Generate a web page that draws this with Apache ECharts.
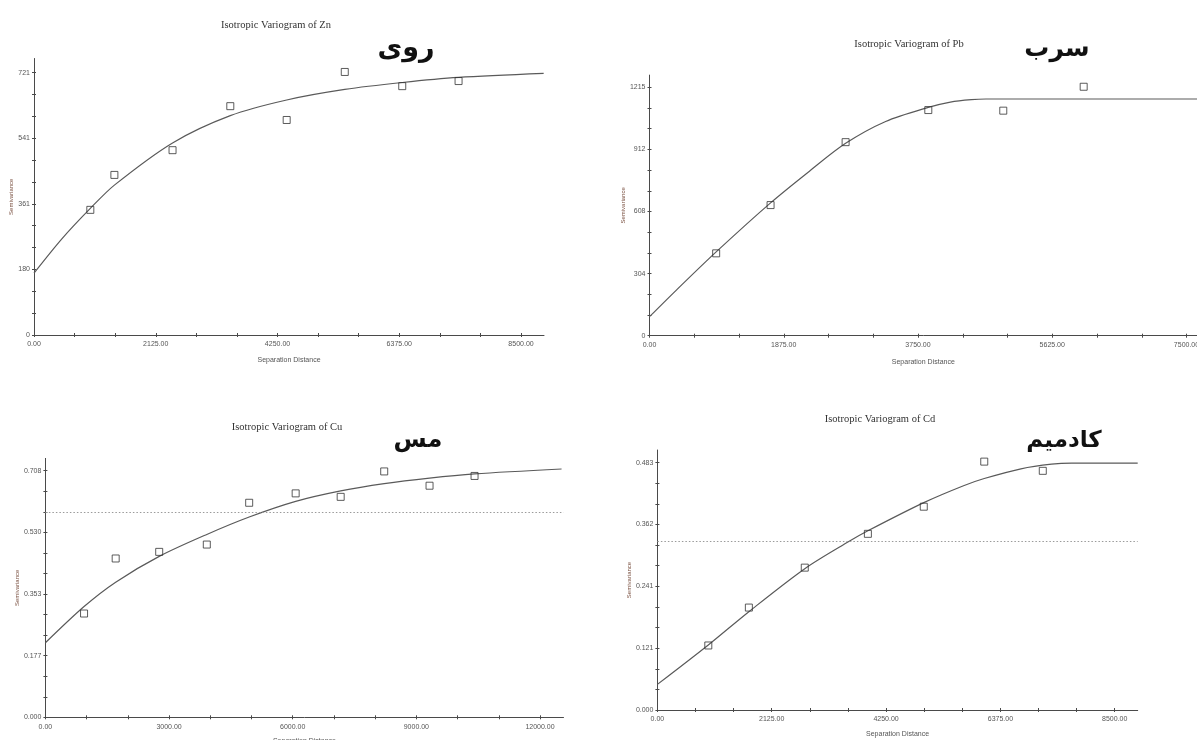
<!DOCTYPE html>
<html><head><meta charset="utf-8">
<script src="https://cdn.jsdelivr.net/npm/echarts@6/dist/echarts.min.js"></script>
<style>html,body{margin:0;padding:0;background:#fff}#c{width:1197px;height:740px}</style>
</head><body><div id="c"></div>
<script>
// ---------- Zn ----------
const znTitle = 'Isotropic Variogram of Zn';
const znFa = 'روی';
const znPtX = [983, 1403, 2418, 3426, 4410, 5424, 6427, 7410];
const znPtY = [344, 440, 508, 629, 591, 723, 684, 698];
const znModX = [0, 490, 983, 1403, 2418, 3426, 4410, 5424, 6427, 7410, 8895];
const znModY = [170, 265, 348, 412, 528, 603, 646, 675, 694, 708, 719];
const znXTicks = [0, 2125, 4250, 6375, 8500];
const znXLabels = ['0.00', '2125.00', '4250.00', '6375.00', '8500.00'];
const znYTicks = [0, 180.25, 360.5, 540.75, 721];
const znYLabels = ['0', '180', '361', '541', '721'];

// ---------- Pb ----------
const pbTitle = 'Isotropic Variogram of Pb';
const pbFa = 'سرب';
const pbPtX = [931, 1691, 2739, 3894, 4941, 6064];
const pbPtY = [403, 639, 947, 1104, 1101, 1218];
const pbModX = [0, 372, 931, 1691, 2234, 2739, 3298, 3894, 4202, 4495, 4700, 7648];
const pbModY = [93, 222, 410, 650, 805, 941, 1048, 1117, 1143, 1155, 1158, 1158];
const pbXTicks = [0, 1875, 3750, 5625, 7500];
const pbXLabels = ['0.00', '1875.00', '3750.00', '5625.00', '7500.00'];
const pbYTicks = [0, 303.9, 607.8, 911.7, 1215.6];
const pbYLabels = ['0', '304', '608', '912', '1215'];

// ---------- Cu ----------
const cuTitle = 'Isotropic Variogram of Cu';
const cuFa = 'مس';
const cuPtX = [938, 1705, 2761, 3916, 4944, 6072, 7164, 8220, 9320, 10412];
const cuPtY = [0.298, 0.456, 0.475, 0.496, 0.616, 0.643, 0.633, 0.706, 0.665, 0.693];
const cuModX = [0, 938, 1705, 2761, 3916, 4944, 6072, 7164, 8220, 9320, 10412, 12523];
const cuModY = [0.214, 0.318, 0.388, 0.462, 0.525, 0.575, 0.620, 0.650, 0.671, 0.687, 0.699, 0.713];
const cuVariance = 0.595;
const cuXTicks = [0, 3000, 6000, 9000, 12000];
const cuXLabels = ['0.00', '3000.00', '6000.00', '9000.00', '12000.00'];
const cuYTicks = [0, 0.177, 0.354, 0.531, 0.708];
const cuYLabels = ['0.000', '0.177', '0.353', '0.530', '0.708'];

// ---------- Cd ----------
const cdTitle = 'Isotropic Variogram of Cd';
const cdFa = 'کادمیم';
const cdPtX = [946, 1700, 2739, 3912, 4951, 6075, 7163];
const cdPtY = [0.126, 0.200, 0.278, 0.344, 0.397, 0.485, 0.467];
const cdModX = [0, 946, 1700, 2739, 3557, 3912, 4951, 5690, 6075, 6757, 7326, 7700, 8927];
const cdModY = [0.050, 0.127, 0.192, 0.276, 0.329, 0.350, 0.405, 0.438, 0.452, 0.471, 0.480, 0.482, 0.482];
const cdVariance = 0.329;
const cdXTicks = [0, 2125, 4250, 6375, 8500];
const cdXLabels = ['0.00', '2125.00', '4250.00', '6375.00', '8500.00'];
const cdYTicks = [0, 0.12075, 0.2415, 0.36225, 0.483];
const cdYLabels = ['0.000', '0.121', '0.241', '0.362', '0.483'];

const panels = [
  {title: znTitle, fa: znFa, ptX: znPtX, ptY: znPtY, modX: znModX, modY: znModY, variance: null,
   xT: znXTicks, xL: znXLabels, yT: znYTicks, yL: znYLabels, xMax: 8901, yMax: 760,
   rect: {left: 34, top: 58.5, width: 510, height: 276.5},
   titlePos: [276, 25], faPos: [406, 49], faSize: 27, yNameGap: 17, xNameGap: 22},
  {title: pbTitle, fa: pbFa, ptX: pbPtX, ptY: pbPtY, modX: pbModX, modY: pbModY, variance: null,
   xT: pbXTicks, xL: pbXLabels, yT: pbYTicks, yL: pbYLabels, xMax: 7648, yMax: 1275,
   rect: {left: 649.5, top: 75.1, width: 547.6, height: 260.6},
   titlePos: [909, 44], faPos: [1057, 49], faSize: 25, yNameGap: 22, xNameGap: 23},
  {title: cuTitle, fa: cuFa, ptX: cuPtX, ptY: cuPtY, modX: cuModX, modY: cuModY, variance: cuVariance,
   xT: cuXTicks, xL: cuXLabels, yT: cuYTicks, yL: cuYLabels, xMax: 12570, yMax: 0.7434,
   rect: {left: 45.4, top: 458.4, width: 518.1, height: 258.9},
   titlePos: [287, 427], faPos: [418, 441], faSize: 24, yNameGap: 24, xNameGap: 20},
  {title: cdTitle, fa: cdFa, ptX: cdPtX, ptY: cdPtY, modX: cdModX, modY: cdModY, variance: cdVariance,
   xT: cdXTicks, xL: cdXLabels, yT: cdYTicks, yL: cdYLabels, xMax: 8927, yMax: 0.5077,
   rect: {left: 657.4, top: 450, width: 480.3, height: 260},
   titlePos: [880, 419], faPos: [1064, 441], faSize: 23, yNameGap: 24, xNameGap: 21}
];

function subdivide(major, parts) {
  const out = [];
  for (let i = 0; i < major.length - 1; i++) {
    const a = major[i], b = major[i + 1];
    for (let k = 0; k < parts; k++) out.push(a + (b - a) * k / parts);
  }
  out.push(major[major.length - 1]);
  return out;
}
function labelFor(ticks, labels) {
  return function (v) {
    let best = 0, bd = Infinity;
    ticks.forEach((t, i) => { const d = Math.abs(t - v); if (d < bd) { bd = d; best = i; } });
    return labels[best];
  };
}

const AX = '#4a4a4a';
const option = {
  backgroundColor: '#ffffff',
  animation: false,
  grid: [], xAxis: [], yAxis: [], series: [], graphic: []
};

panels.forEach((p, i) => {
  const xMinor = subdivide(p.xT, 3);
  const yMinor = subdivide(p.yT, 3);
  option.grid.push(Object.assign({containLabel: false, outerBoundsMode: 'none'}, p.rect));
  option.xAxis.push({
    type: 'value', gridIndex: i, min: 0, max: p.xMax,
    name: 'Separation Distance', nameLocation: 'middle', nameGap: p.xNameGap,
    nameTextStyle: {fontSize: 7, color: '#555', fontFamily: 'Liberation Sans'},
    axisLine: {show: true, onZero: false, lineStyle: {color: AX, width: 1}},
    axisTick: {show: true, length: 2, customValues: xMinor, lineStyle: {color: AX}},
    axisLabel: {show: true, customValues: p.xT, formatter: labelFor(p.xT, p.xL), fontSize: 7,
      color: '#555', margin: 6, fontFamily: 'Liberation Sans'},
    splitLine: {show: false}
  });
  option.yAxis.push({
    type: 'value', gridIndex: i, min: 0, max: p.yMax,
    name: 'Semivariance', nameLocation: 'middle', nameGap: p.yNameGap,
    nameTextStyle: {fontSize: 6, color: '#7a5040', fontFamily: 'Liberation Sans'},
    axisLine: {show: true, onZero: false, lineStyle: {color: AX, width: 1}},
    axisTick: {show: true, length: 2, customValues: yMinor, lineStyle: {color: AX}},
    axisLabel: {show: true, customValues: p.yT, formatter: labelFor(p.yT, p.yL), fontSize: 7,
      color: '#555', margin: 4, fontFamily: 'Liberation Sans'},
    splitLine: {show: false}
  });
  option.series.push({
    type: 'line', xAxisIndex: i, yAxisIndex: i,
    data: p.modX.map((x, k) => [x, p.modY[k]]),
    smooth: 0.3, showSymbol: false, symbol: 'none',
    lineStyle: {color: '#5a5a5a', width: 1.2}, z: 2,
    markLine: p.variance == null ? undefined : {
      silent: true, symbol: ['none', 'none'], label: {show: false},
      lineStyle: {color: '#9a9a9a', type: [1.5, 2], width: 1},
      data: [{yAxis: p.variance}]
    }
  });
  option.series.push({
    type: 'scatter', xAxisIndex: i, yAxisIndex: i,
    data: p.ptX.map((x, k) => [x, p.ptY[k]]),
    symbol: 'rect', symbolSize: 7,
    itemStyle: {color: 'rgba(255,255,255,0)', borderColor: '#333', borderWidth: 1}, z: 3
  });
  option.graphic.push({type: 'text', x: p.titlePos[0], y: p.titlePos[1],
    style: {text: p.title, fill: '#333', font: '10.5px "Liberation Serif"', align: 'center', verticalAlign: 'middle'}});
  option.graphic.push({type: 'text', x: p.faPos[0], y: p.faPos[1],
    style: {text: p.fa, fill: '#111', font: 'bold ' + p.faSize + 'px "DejaVu Sans"', align: 'center', verticalAlign: 'middle'}});
});

// second set of grids: inward tick halves so ticks cross the axis lines
panels.forEach((p, i) => {
  const gi = panels.length + i;
  option.grid.push(Object.assign({containLabel: false, outerBoundsMode: 'none'}, p.rect));
  option.xAxis.push({
    type: 'value', gridIndex: gi, min: 0, max: p.xMax,
    axisLine: {show: false}, axisLabel: {show: false}, splitLine: {show: false},
    axisTick: {show: true, inside: true, length: 2, customValues: subdivide(p.xT, 3), lineStyle: {color: AX}}
  });
  option.yAxis.push({
    type: 'value', gridIndex: gi, min: 0, max: p.yMax,
    axisLine: {show: false}, axisLabel: {show: false}, splitLine: {show: false},
    axisTick: {show: true, inside: true, length: 2, customValues: subdivide(p.yT, 3), lineStyle: {color: AX}}
  });
});

const chart = echarts.init(document.getElementById('c'));
chart.setOption(option);
</script>
</body></html>
